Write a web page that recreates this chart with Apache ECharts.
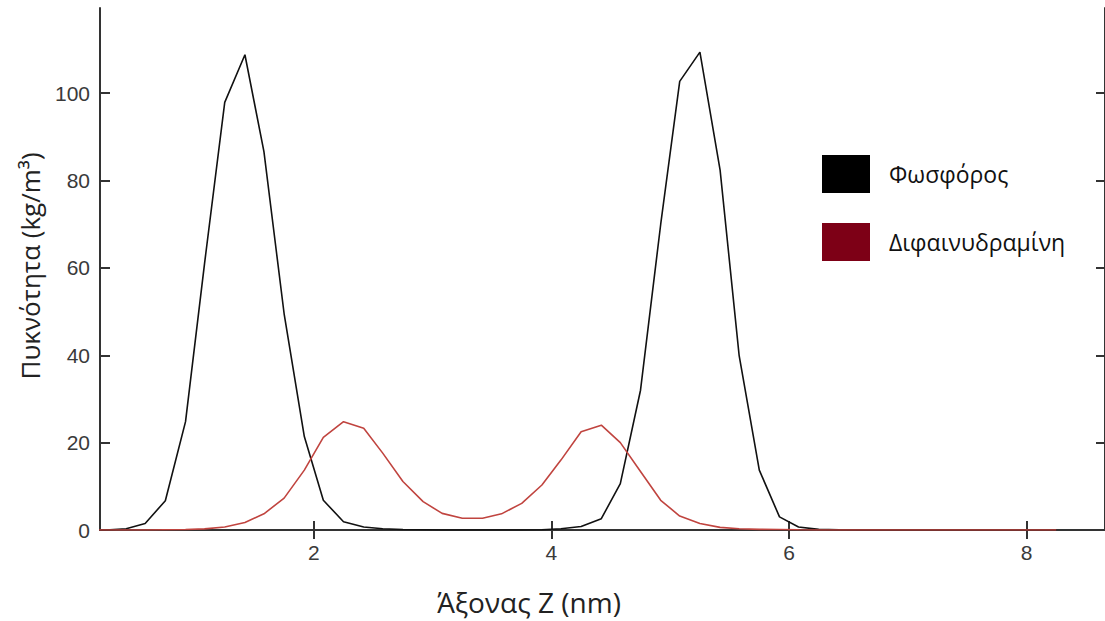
<!DOCTYPE html>
<html>
<head>
<meta charset="utf-8">
<script src="https://cdn.jsdelivr.net/npm/echarts@6/dist/echarts.min.js"></script>
<style>
html,body{margin:0;padding:0;background:#fff;}
#chart{width:1105px;height:621px;}
</style>
</head>
<body>
<div id="chart"></div>
<script>
// Z positions (nm)
var zValues = [0.08,0.25,0.42,0.58,0.75,0.92,1.08,1.25,1.42,1.58,1.75,1.92,2.08,2.25,2.42,2.58,2.75,2.92,3.08,3.25,3.42,3.58,3.75,3.92,4.08,4.25,4.42,4.58,4.75,4.92,5.08,5.25,5.42,5.58,5.75,5.92,6.08,6.25,6.42,6.58,6.75,6.92,7.08,7.25,7.42,7.58,7.75,7.92,8.08,8.25];
// Φωσφόρος density (kg/m3)
var phosphorus = [0,0,0.3,1.5,6.7,24.8,61,97.9,108.8,86.6,49.5,21.4,6.8,1.9,0.7,0.3,0.1,0.05,0,0,0,0,0,0.05,0.3,0.8,2.6,10.6,32,70,102.7,109.4,82.4,40,13.7,3.0,0.7,0.15,0.05,0,0,0,0,0,0,0,0,0,0,0];
// Διφαινυδραμίνη density (kg/m3)
var diphenhydramine = [0,0,0,0,0.05,0.1,0.25,0.7,1.7,3.7,7.3,13.7,21.2,24.8,23.3,17.6,11.1,6.5,3.8,2.7,2.7,3.7,6.1,10.3,16.0,22.5,24.0,20.0,13.4,6.8,3.2,1.5,0.6,0.3,0.15,0.1,0.05,0,0,0,0,0,0,0,0,0,0,0,0,0];
var xTicks = [2,4,6,8];
var yTicks = [0,20,40,60,80,100];
var seriesNames = ['Φωσφόρος','Διφαινυδραμίνη'];
var xTitle = 'Άξονας Z (nm)';
var yTitle = 'Πυκνότητα (kg/m³)';

function pairs(xs, ys){ return xs.map(function(x,i){ return [x, ys[i]]; }); }

var axisLineStyle = {color:'#333', width:2};
var chart = echarts.init(document.getElementById('chart'), null, {renderer:'svg'});
chart.setOption({
  animation:false,
  backgroundColor:'#fff',
  grid:{left:100, right:0, top:8, bottom:91, containLabel:false},
  legend:{
    orient:'vertical', left:817, top:150, itemWidth:48, itemHeight:38, itemGap:30, icon:'rect',
    textStyle:{fontFamily:'Open Sans', fontSize:23, color:'#111', padding:[0,0,0,14]},
    data:[
      {name:seriesNames[0], itemStyle:{color:'#000'}},
      {name:seriesNames[1], itemStyle:{color:'#7d0016'}}
    ]
  },
  xAxis:[{
    type:'value', min:0.2, max:8.66, position:'bottom',
    axisLine:{show:true, lineStyle:axisLineStyle},
    axisTick:{show:true, inside:true, length:9, lineStyle:axisLineStyle, customValues:xTicks},
    axisLabel:{show:true, margin:12, fontFamily:'Liberation Sans', fontSize:21, color:'#3a3a3a', customValues:xTicks},
    splitLine:{show:false},
    name:xTitle, nameLocation:'middle', nameGap:58,
    nameTextStyle:{fontFamily:'Open Sans', fontSize:28, color:'#222', padding:[0,147,0,0]}
  },{
    type:'value', min:0.2, max:8.66, position:'top',
    axisLine:{show:true, lineStyle:axisLineStyle},
    axisTick:{show:true, inside:true, length:9, lineStyle:axisLineStyle, customValues:xTicks},
    axisLabel:{show:false},
    splitLine:{show:false}
  }],
  yAxis:[{
    type:'value', min:0, max:119.5, position:'left',
    axisLine:{show:true, lineStyle:axisLineStyle},
    axisTick:{show:true, inside:true, length:10, lineStyle:axisLineStyle, customValues:yTicks},
    axisLabel:{show:true, margin:10, fontFamily:'Liberation Sans', fontSize:21, color:'#3a3a3a', customValues:yTicks},
    splitLine:{show:false},
    name:yTitle, nameLocation:'middle', nameGap:57, nameRotate:90,
    nameTextStyle:{fontFamily:'Open Sans', fontSize:26, color:'#222', padding:[0,0,0,6]}
  },{
    type:'value', min:0, max:119.5, position:'right',
    axisLine:{show:true, lineStyle:axisLineStyle},
    axisTick:{show:true, inside:true, length:9, lineStyle:axisLineStyle, customValues:yTicks},
    axisLabel:{show:false},
    splitLine:{show:false}
  }],
  series:[
    {name:seriesNames[0], type:'line', data:pairs(zValues, phosphorus), showSymbol:false, symbol:'none',
     itemStyle:{color:'#000'}, lineStyle:{color:'#111', width:1.6}, clip:true},
    {name:seriesNames[1], type:'line', data:pairs(zValues, diphenhydramine), showSymbol:false, symbol:'none',
     itemStyle:{color:'#7d0016'}, lineStyle:{color:'#c0443f', width:1.6}, clip:true}
  ]
});
</script>
</body>
</html>
